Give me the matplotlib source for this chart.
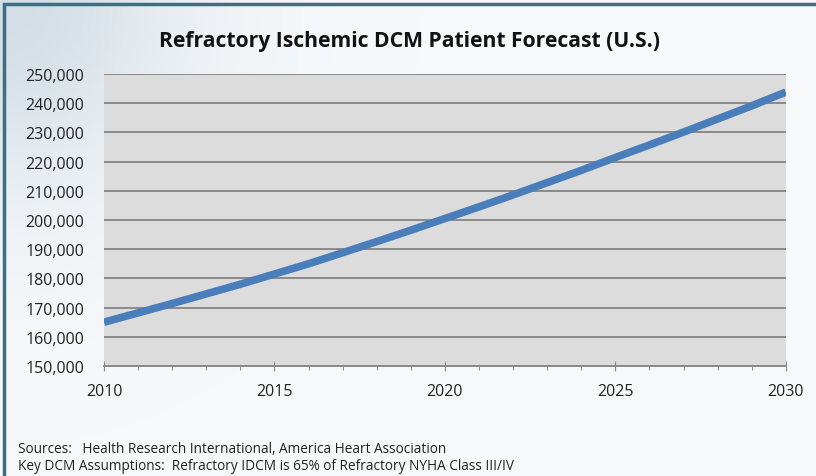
import numpy as np
import matplotlib.pyplot as plt
from matplotlib.colors import LinearSegmentedColormap
from matplotlib.patches import Rectangle
from matplotlib.ticker import FuncFormatter, MultipleLocator

years = np.arange(2010, 2031)
patients = [165000, 168200, 171400, 174700, 178000, 181500, 185000, 188800,
            192600, 196500, 200500, 204500, 208600, 212800, 217000, 221400,
            225700, 230100, 234600, 239100, 243800]

title = "Refractory Ischemic DCM Patient Forecast (U.S.)"
notes = ["Sources:   Health Research International, America Heart Association",
         "Key DCM Assumptions:  Refractory IDCM is 65% of Refractory NYHA Class III/IV"]

plt.rcParams["font.family"] = ["Open Sans", "DejaVu Sans"]

fig = plt.figure(figsize=(8.16, 4.77), dpi=100, facecolor="#f6f8fa")

# faint bluish glow in the top-left corner, like the slide background
bg = fig.add_axes([0, 0, 1, 1], zorder=-10)
gx, gy = np.meshgrid(np.linspace(0, 1, 200), np.linspace(0, 1, 120))
glow = np.exp(-((gx / 0.22) ** 2 + ((1 - gy) / 0.4) ** 2))
bg.imshow(glow, cmap=LinearSegmentedColormap.from_list("g", ["#f6f8fa", "#d3dee6"]),
          aspect="auto", origin="lower", extent=[0, 1, 0, 1])
bg.axis("off")

fig.patches.append(Rectangle((0.005, -0.01), 1.2, 1.0, transform=fig.transFigure,
                             fill=False, edgecolor="#3d6f80", linewidth=2.5))

ax = fig.add_axes([0.1275, 0.2306, 0.8355, 0.6122])
ax.set_facecolor("#dcdcdc")
ax.plot(years, patients, color="#4a7ebb", linewidth=5.5, solid_capstyle="butt")

ax.set_xlim(2010, 2030)
ax.set_ylim(150000, 250000)
ax.set_yticks(np.arange(150000, 250001, 10000))
ax.set_xticks([2010, 2015, 2020, 2025, 2030])
ax.xaxis.set_minor_locator(MultipleLocator(1))
ax.yaxis.set_major_formatter(FuncFormatter(lambda v, p: f"{int(v):,}"))
ax.grid(axis="y", color="#8a8a8a", linewidth=1.4)
ax.set_axisbelow(True)
for s in ["top", "right", "left"]:
    ax.spines[s].set_visible(False)
ax.spines["bottom"].set_color("#8a8a8a")
ax.spines["bottom"].set_linewidth(1.4)
ax.tick_params(axis="y", length=0, labelsize=11.5, colors="#222222", pad=14)
ax.tick_params(axis="x", which="major", length=7, color="#8a8a8a", labelsize=11.5,
               labelcolor="#222222", pad=9, direction="inout")
ax.tick_params(axis="x", which="minor", length=3, color="#8a8a8a")

fig.text(0.502, 0.912, title, ha="center", va="center", fontsize=15.2,
         fontweight="bold", color="#111111")
fig.text(0.022, 0.057, notes[0], fontsize=9.8, color="#222222", va="center")
fig.text(0.022, 0.022, notes[1], fontsize=9.8, color="#222222", va="center")

fig.savefig("out.png", dpi=100, facecolor=fig.get_facecolor())
